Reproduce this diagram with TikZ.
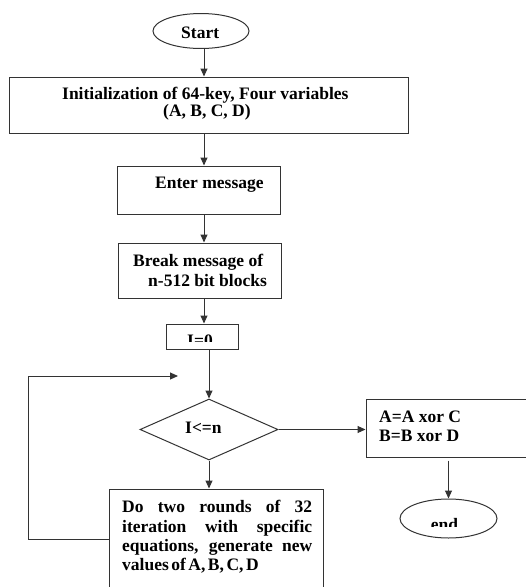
\documentclass[tikz,border=0pt]{standalone}
\usepackage{fontspec}
\setmainfont{Liberation Serif}
\usetikzlibrary{shapes.geometric,arrows.meta}
\begin{document}
\begin{tikzpicture}[x=1pt,y=-1pt,
  line/.style={draw=black!80,line width=1pt},
  arr/.style={line,-{Triangle[length=8pt,width=7pt]}},
  box/.style={line,rectangle,inner sep=0pt},
  oval/.style={line,ellipse,inner sep=0pt},
  txt/.style={font=\fontsize{17.5}{20}\selectfont\bfseries,inner sep=0pt,anchor=base west},
]
\useasboundingbox (0,0) rectangle (526,587);
\clip (0,0) rectangle (526,587);

% shapes
\node[oval,minimum width=96pt,minimum height=35pt] (start) at (201,31) {};
\node[box,minimum width=399pt,minimum height=56pt] (init) at (208.5,105) {};
\node[box,minimum width=163pt,minimum height=48pt] (enter) at (198.5,190) {};
\node[box,minimum width=163pt,minimum height=55pt] (break) at (199.5,270.5) {};
\node[box,minimum width=72pt,minimum height=25pt] (izero) at (202,336.5) {};
\node[line,diamond,inner sep=0pt,minimum width=138pt,minimum height=61pt] (cond) at (209,429.5) {};
\node[box,minimum width=214pt,minimum height=116pt] (rounds) at (216,547) {};
\node[box,minimum width=179pt,minimum height=58pt] (xorbox) at (455.5,428) {};
\node[oval,minimum width=97pt,minimum height=39pt] (endn) at (448.5,518.5) {};

% texts
\node[txt] (tstart) at (181,38) {Start};
\node[txt] (tinit1) at (62,99) {Initialization of 64-key, Four variables};
\node[txt] (tinit2) at (163,116) {(A, B, C, D)};
\node[txt] (tenter) at (155,188) {Enter message};
\node[txt] (tbreak1) at (133,266) {Break message of};
\node[txt] (tbreak2) at (148,286) {n-512 bit blocks};
\begin{scope}
  \clip (166,324) rectangle (238,341);
  \node[txt,anchor=base] (tizero) at (200,346) {I=0};
\end{scope}
\node[txt] (tcond) at (185,433) {I<=n};
\node[txt] (txor1) at (379,422) {A=A xor C};
\node[txt] (txor2) at (379,441) {B=B xor D};
\begin{scope}
  \clip (400,499) rectangle (497,526);
  \node[txt,anchor=base] (tend) at (444.5,530) {end};
\end{scope}
\node[txt] (tr1) at (122,512) {\makebox[190pt][s]{Do two rounds of 32}};
\node[txt] (tr2) at (122,532) {\makebox[190pt][s]{iteration with specific}};
\node[txt] (tr3) at (122,551) {\makebox[190pt][s]{equations, generate new}};
\node[txt] (tr4) at (122,570) {\spaceskip=2.5pt values of A, B, C, D};

% connectors
\coordinate (spine) at (204,0);
\draw[arr] (spine |- start.south) -- (spine |- init.north);
\draw[arr] (spine |- init.south) -- (spine |- enter.north);
\draw[arr] (spine |- enter.south) -- (spine |- break.north);
\draw[arr] (spine |- break.south) -- (spine |- izero.north);
\draw[arr] (izero.south -| cond.north) -- (cond.north);
\draw[arr] (cond.south) -- (cond.south |- rounds.north);
\draw[arr] (cond.east) -- (cond.east -| xorbox.west);
\draw[arr] ([yshift=-3pt]xorbox.south -| endn.north) -- (endn.north);
\coordinate (loopcorner) at (28,539);
\coordinate (loopend) at (178,376);
\draw[arr] (loopcorner -| rounds.west) -- (loopcorner) |- (loopend);
\end{tikzpicture}
\end{document}
